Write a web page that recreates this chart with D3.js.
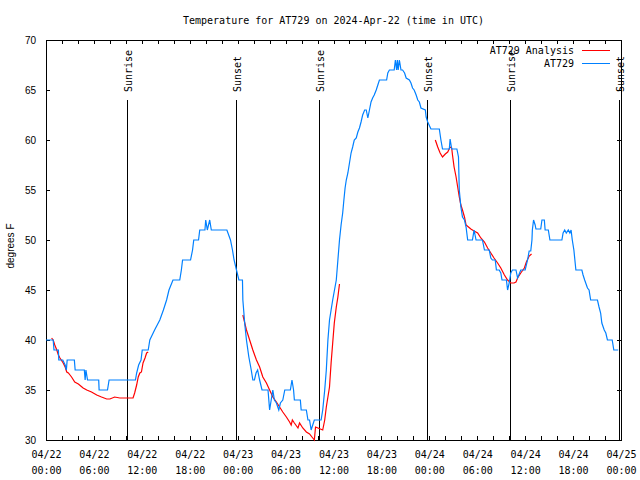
<!DOCTYPE html>
<html>
<head>
<meta charset="utf-8">
<script src="https://cdn.jsdelivr.net/npm/d3@7"></script>
<style>
  html, body { margin: 0; padding: 0; background: #fff; }
  svg { display: block; }
  .mono { font-family: "DejaVu Sans Mono", "Liberation Mono", monospace; font-size: 10px; }
  .sans { font-family: "Liberation Sans", Arial, sans-serif; font-size: 10px; }
</style>
</head>
<body>
<svg id="chart" width="640" height="480"></svg>
<script>
// ---------- DATA ----------
const chartTitle = "Temperature for AT729 on 2024-Apr-22 (time in UTC)";
const yLabel = "degrees F";
const startTime = "2024-04-22T00:00:00Z";
const endTime = "2024-04-25T00:00:00Z";
const yTicks = [30, 35, 40, 45, 50, 55, 60, 65, 70];
const seriesNames = ["AT729 Analysis", "AT729"];

// [hours since 04/22 00:00 UTC, temperature F]
const observed = [
  [0,40],[0.9,40],[1.0,39],[1.55,39],[1.6,38],[2.1,38],[2.4,37.5],[2.55,37],[2.65,38],[3.55,38],
  [3.65,37],[4.8,37],[4.9,36],[5.0,37],[5.2,36],[6.6,36],[6.65,35],[7.7,35],[7.9,36],[11.2,36],
  [11.35,36.7],[11.6,37.5],[11.9,38],[12.05,39],[12.8,39],[13.0,40],[13.6,41],[14.25,42],[14.7,43],
  [15.1,44],[15.4,45],[15.9,46],[16.75,46],[16.95,47],[17.1,48],[18.1,48],[18.35,49],[18.5,50],
  [19.1,50],[19.25,51],[19.9,51],[20.0,52],[20.2,51],[20.5,52],[20.7,51],[22.65,51],[23.1,50],
  [23.35,49],[23.55,48],[23.85,47],[24.15,46],[24.6,46],[24.65,44],[24.9,41.5],[25.1,40],
  [25.4,38.3],[25.7,37],[25.9,36],[26.1,36],[26.3,36.7],[26.5,37],[26.75,36],[27.05,35],[27.8,35],
  [28.0,33],[28.2,34],[28.4,35],[28.6,34],[28.85,33.7],[29.15,33],[29.35,33.7],[29.65,34],[29.9,35],
  [30.6,35],[30.8,36],[31.0,35],[31.1,34],[31.85,34],[31.95,33],[32.6,33],[32.8,32],[33.0,32],
  [33.2,31],[33.4,31.5],[33.6,32],[34.45,32],[34.65,33],[34.9,35],[35.1,37],[35.3,40],[35.5,42],
  [35.7,43],[35.9,44],[36.35,46],[36.55,48],[36.75,50],[36.95,51.5],[37.15,52.7],[37.3,54],
  [37.45,55.2],[37.6,56],[37.8,56.7],[38.0,57.7],[38.2,58.7],[38.4,59.3],[38.6,60],[38.85,60.2],
  [39.05,60.8],[39.25,61.2],[39.45,61.8],[39.65,62.5],[39.9,63],[40.1,63],[40.3,62.2],[40.5,63],
  [40.7,63.8],[40.9,64.2],[41.1,64.5],[41.35,65],[41.55,65.5],[41.75,66],[42.65,66],[42.8,66.7],
  [43.0,67],[43.6,67],[43.75,68],[43.9,67],[44.0,68],[44.1,67],[44.25,68],[44.45,67],[44.65,67],
  [44.9,66.7],[45.1,66.2],[45.5,66],[45.7,65.7],[45.9,65.2],[46.1,65],[46.35,64.5],[46.55,64],
  [46.75,63.8],[46.95,63.2],[47.5,63],[47.6,62.3],[47.8,61.8],[48.2,61.1],[49.25,61.1],[49.45,60],
  [49.65,59.1],[50.5,59.1],[50.6,60.1],[50.8,59.1],[51.45,59.1],[51.65,58.3],[51.75,55],[51.95,53.3],
  [52.15,52.3],[52.4,52],[52.6,51.3],[52.8,50],[53.4,50],[53.6,51],[53.85,50],[54.65,50],[54.9,49],
  [55.5,49],[55.7,48.2],[55.9,48],[56.25,48],[56.4,47],[56.75,47],[56.95,46.7],[57.1,46],[57.65,46],
  [57.8,45],[58.0,45.7],[58.2,46.7],[58.4,47],[58.85,47],[59.05,46.2],[59.45,47],[60.0,47],[60.3,48],
  [60.5,48.9],[60.7,48.9],[60.85,50],[60.9,51],[61.05,52],[61.25,51.5],[61.35,51.1],[61.95,51.1],
  [62.1,52],[62.4,52],[62.5,51],[62.9,51],[63.1,50],[64.6,50],[64.75,50.7],[64.95,51],[65.15,50.7],
  [65.4,51],[65.6,50.7],[65.75,51],[65.9,50],[66.1,49],[66.35,47],[67.1,47],[67.25,46.5],[67.45,46],
  [67.8,45.2],[68.0,45],[68.2,44],[69.05,44],[69.25,43.3],[69.45,42.7],[69.6,41.7],[69.9,41],
  [70.1,40.7],[70.3,40],[70.9,40],[71.1,39],[71.65,39]
];

const analysisDay1 = [
  [0.7,40.2],[0.9,40],[1.1,39.5],[1.35,39],[1.55,38.5],[1.75,38.2],[2.15,37.7],[2.4,37.3],[2.6,36.8],
  [2.8,36.7],[3.2,36.3],[3.6,35.8],[4.05,35.6],[4.65,35.2],[5.1,35],[5.7,34.8],[6.35,34.5],[6.95,34.3],
  [7.6,34.1],[8.0,34.1],[8.6,34.3],[9.25,34.2],[10.9,34.2],[11.1,34.7],[11.35,35.5],[11.55,36.3],
  [11.75,36.7],[11.95,36.8],[12.15,37.7],[12.4,38.2],[12.6,38.7],[12.8,38.8]
];
const analysisDay2 = [
  [24.65,42.5],[25.1,41],[25.5,40],[25.7,39.5],[25.9,39],[26.35,38],[26.75,37.3],[27.15,36.3],
  [27.6,35.7],[28.0,35],[28.4,34.3],[28.85,33.8],[29.25,33.3],[29.65,32.8],[30.1,32.3],[30.5,31.8],
  [30.7,31.5],[30.85,32],[31.1,31.7],[31.55,31.2],[31.75,31.7],[32.15,31.2],[32.6,30.8],[33.0,30.6],
  [33.4,30.2],[33.6,30],[33.75,31.3],[34.05,31.2],[34.65,31],[34.9,32],[35.1,33.3],[35.5,35.3],
  [35.7,37.7],[35.9,39.7],[36.1,41.7],[36.35,43.3],[36.55,44.3],[36.75,45.6]
];
const analysisDay3 = [
  [48.75,60],[49.05,59.3],[49.35,58.7],[49.65,58.3],[50.0,58.6],[50.3,58.8],[50.6,59.3],[50.8,59.2],
  [50.9,58.5],[51.1,57.3],[51.35,56.3],[51.55,55.3],[51.75,54.3],[51.95,53.5],[52.15,53],[52.4,52.3],
  [52.6,51.5],[52.9,51.3],[53.2,51.1],[53.6,50.9],[54.05,50.7],[54.45,50.2],[54.9,49.8],[55.3,49.2],
  [55.7,48.7],[56.1,48.2],[56.55,47.7],[56.95,47.2],[57.4,46.5],[57.8,46],[58.2,45.7],[58.6,45.7],
  [58.85,45.8],[59.05,46.2],[59.45,46.7],[59.9,47.2],[60.15,47.8],[60.5,48.4],[60.8,48.6]
];

const sunLabels = ["Sunrise", "Sunset", "Sunrise", "Sunset", "Sunrise", "Sunset"];
const sunHours = [10.15, 23.75, 34.15, 47.7, 58.05, 71.7];

// ---------- DRAW ----------
const colors = { analysis: "#ff0000", obs: "#0080ff" };
const plot = { left: 46, right: 621, top: 40, bottom: 440 };
const svg = d3.select("#chart");
const t0 = new Date(startTime);
const toDate = h => new Date(t0.getTime() + h * 3600e3);

const x = d3.scaleUtc().domain([t0, new Date(endTime)]).range([plot.left, plot.right]);
const y = d3.scaleLinear().domain([30, 70]).range([plot.bottom, plot.top]);

// Axes
const majorTicks = d3.utcHour.every(6).range(t0, new Date(new Date(endTime).getTime() + 1));
const minorTicks = d3.utcHour.every(2).range(t0, new Date(new Date(endTime).getTime() + 1));

const gB = svg.append("g").attr("transform", `translate(0,${plot.bottom})`)
  .call(d3.axisBottom(x).tickValues(minorTicks).tickSizeInner(-4).tickSizeOuter(0).tickFormat(""));
const gBL = svg.append("g").attr("transform", `translate(0,${plot.bottom})`)
  .call(d3.axisBottom(x).tickValues(majorTicks).tickSizeInner(-4).tickSizeOuter(0).tickPadding(0)
    .tickFormat(d => d3.utcFormat("%m/%d")(d) + "|" + d3.utcFormat("%H:%M")(d)));
gBL.selectAll("text").each(function() {
  const parts = d3.select(this).text().split("|");
  const t = d3.select(this).text(null).attr("y", 0).attr("dy", null);
  t.append("tspan").attr("x", 0).attr("y", 18).text(parts[0]);
  t.append("tspan").attr("x", 0).attr("y", 34).text(parts[1]);
});
const gT = svg.append("g").attr("transform", `translate(0,${plot.top})`)
  .call(d3.axisTop(x).tickValues(minorTicks).tickSizeInner(-4).tickSizeOuter(0).tickFormat(""));
const gL = svg.append("g").attr("transform", `translate(${plot.left},0)`)
  .call(d3.axisLeft(y).tickValues(yTicks).tickSizeInner(-4).tickSizeOuter(0).tickPadding(10));
const gR = svg.append("g").attr("transform", `translate(${plot.right},0)`)
  .call(d3.axisRight(y).tickValues(yTicks).tickSizeInner(-4).tickSizeOuter(0).tickFormat(""));

[gB, gBL, gT, gL, gR].forEach(g => {
  g.select(".domain").remove();
  g.selectAll("line").attr("stroke", "#000").attr("shape-rendering", "crispEdges");
});
gBL.selectAll("text").attr("class", "mono").attr("fill", "#000").attr("font-family", null).attr("font-size", null);
gL.selectAll("text").attr("class", "sans").attr("fill", "#000").attr("font-family", null).attr("font-size", null)
  .attr("dy", "0.35em");

// Frame
svg.append("rect")
  .attr("x", plot.left + 0.5).attr("y", plot.top + 0.5)
  .attr("width", plot.right - plot.left).attr("height", plot.bottom - plot.top)
  .attr("fill", "none").attr("stroke", "#000").attr("stroke-width", 1);

// Sunrise / sunset lines
const sun = svg.append("g");
sunHours.forEach((h, i) => {
  const sx = Math.round(x(toDate(h))) + 0.5;
  sun.append("line").attr("x1", sx).attr("x2", sx).attr("y1", 100).attr("y2", plot.bottom)
    .attr("stroke", "#000").attr("stroke-width", 1).attr("shape-rendering", "crispEdges");
  sun.append("text").attr("class", "mono")
    .attr("transform", `translate(${sx + 4},92) rotate(-90)`)
    .attr("text-anchor", "start").text(sunLabels[i]);
});

// Data lines
const line = d3.line().x(d => x(toDate(d[0]))).y(d => y(d[1]));
[analysisDay1, analysisDay2, analysisDay3].forEach(seg => {
  svg.append("path").datum(seg).attr("d", line)
    .attr("fill", "none").attr("stroke", colors.analysis).attr("stroke-width", 1.2);
});
svg.append("path").datum(observed).attr("d", line)
  .attr("fill", "none").attr("stroke", colors.obs).attr("stroke-width", 1.2);

// Legend
const legendColors = [colors.analysis, colors.obs];
seriesNames.forEach((name, i) => {
  const ly = 50 + i * 13;
  svg.append("text").attr("class", "mono").attr("x", 574).attr("y", ly + 4)
    .attr("text-anchor", "end").text(name);
  svg.append("line").attr("x1", 582).attr("x2", 610).attr("y1", ly + 0.5).attr("y2", ly + 0.5)
    .attr("stroke", legendColors[i]).attr("stroke-width", 1);
});

// Title and axis label
svg.append("text").attr("class", "mono").attr("x", (plot.left + plot.right) / 2).attr("y", 24)
  .attr("text-anchor", "middle").text(chartTitle);
svg.append("text").attr("class", "sans")
  .attr("transform", `translate(14,${(plot.top + plot.bottom) / 2 + 6}) rotate(-90)`)
  .attr("text-anchor", "middle").text(yLabel);
</script>
</body>
</html>
